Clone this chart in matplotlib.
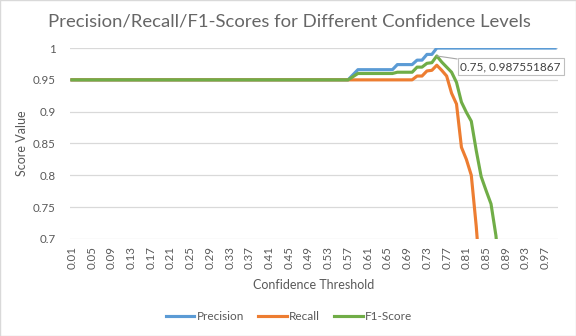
import numpy as np
import matplotlib
matplotlib.use('Agg')
from matplotlib import pyplot as plt

# categories: confidence thresholds 0.01 .. 0.99
thresholds = ['%.2f' % (i / 100) for i in range(1, 100)]

# values; NaN = below the axis minimum (not visible)
precision = ([0.95] * 57 + [0.958] + [0.966] * 8 + [0.974] * 4 + [0.981] * 2
             + [0.990] * 2 + [1.0] * 25)
recall = ([0.95] * 70 + [0.956, 0.956, 0.964, 0.965, 0.973,
                         0.965, 0.956, 0.929, 0.912, 0.844, 0.825, 0.80, 0.72, 0.62]
          + [np.nan] * 15)
f1 = ([0.95] * 57 + [0.955] + [0.960] * 8 + [0.962] * 4 + [0.970] * 2
      + [0.976, 0.977, 0.987551867,
         0.978, 0.970, 0.962, 0.946, 0.915, 0.899, 0.885, 0.839, 0.798, 0.776, 0.755, 0.705, 0.62]
      + [np.nan] * 11)

series = ['Precision', 'Recall', 'F1-Score']
colors = ['#5B9BD5', '#ED7D31', '#70AD47']

plt.rcParams['font.family'] = ['Lato', 'DejaVu Sans']
grey = '#595959'

fig = plt.figure(figsize=(5.76, 3.36), dpi=100)
ax = fig.add_axes([0.1207, 0.289, 0.8473, 0.568])

x = np.arange(len(thresholds))
for name, vals, c in zip(series, [precision, recall, f1], colors):
  ax.plot(x, vals, color=c, lw=2.25, label=name, solid_joinstyle='round')

ax.set_xlim(-0.5, len(thresholds) - 0.5)
ax.set_ylim(0.7, 1.0)
ax.set_yticks([0.7, 0.75, 0.8, 0.85, 0.9, 0.95, 1.0])
ax.set_yticklabels(['0.7', '0.75', '0.8', '0.85', '0.9', '0.95', '1'])
ax.set_xticks(x[::4])
ax.set_xticklabels(thresholds[::4], rotation=90)
ax.tick_params(length=0, labelsize=8.3, colors=grey, pad=5)
ax.tick_params(axis='y', pad=10)
ax.grid(axis='y', color='#d9d9d9', lw=0.9)
ax.set_axisbelow(True)
for s in ax.spines.values():
  s.set_visible(False)

ax.set_xlabel('Confidence Threshold', fontsize=9, color=grey, labelpad=7)
ax.set_ylabel('Score Value', fontsize=9, color=grey, labelpad=3)
fig.suptitle('Precision/Recall/F1-Scores for Different Confidence Levels',
             fontsize=13.3, color='#666666', y=0.96, x=0.502)

# data label for the F1 peak
ax.annotate('0.75, 0.987551867', xy=(74, 0.987551867), xytext=(89.0, 0.9705),
            ha='center', va='center', fontsize=8.5, color='#404040',
            bbox=dict(boxstyle='square,pad=0.25', fc='white', ec='#bfbfbf', lw=0.8),
            arrowprops=dict(arrowstyle='-', color='#a6a6a6', lw=0.8, shrinkA=0, shrinkB=0))

fig.legend(loc='lower center', ncol=3, frameon=False, fontsize=8.5,
           bbox_to_anchor=(0.502, 0.01), handlelength=2.4, columnspacing=1.2,
           labelcolor=grey, handletextpad=0.2)

fig.patches.append(plt.Rectangle((0, 0), 1, 1, transform=fig.transFigure,
                                 fill=False, ec='#d9d9d9', lw=1))
fig.savefig('out.png', dpi=100)
